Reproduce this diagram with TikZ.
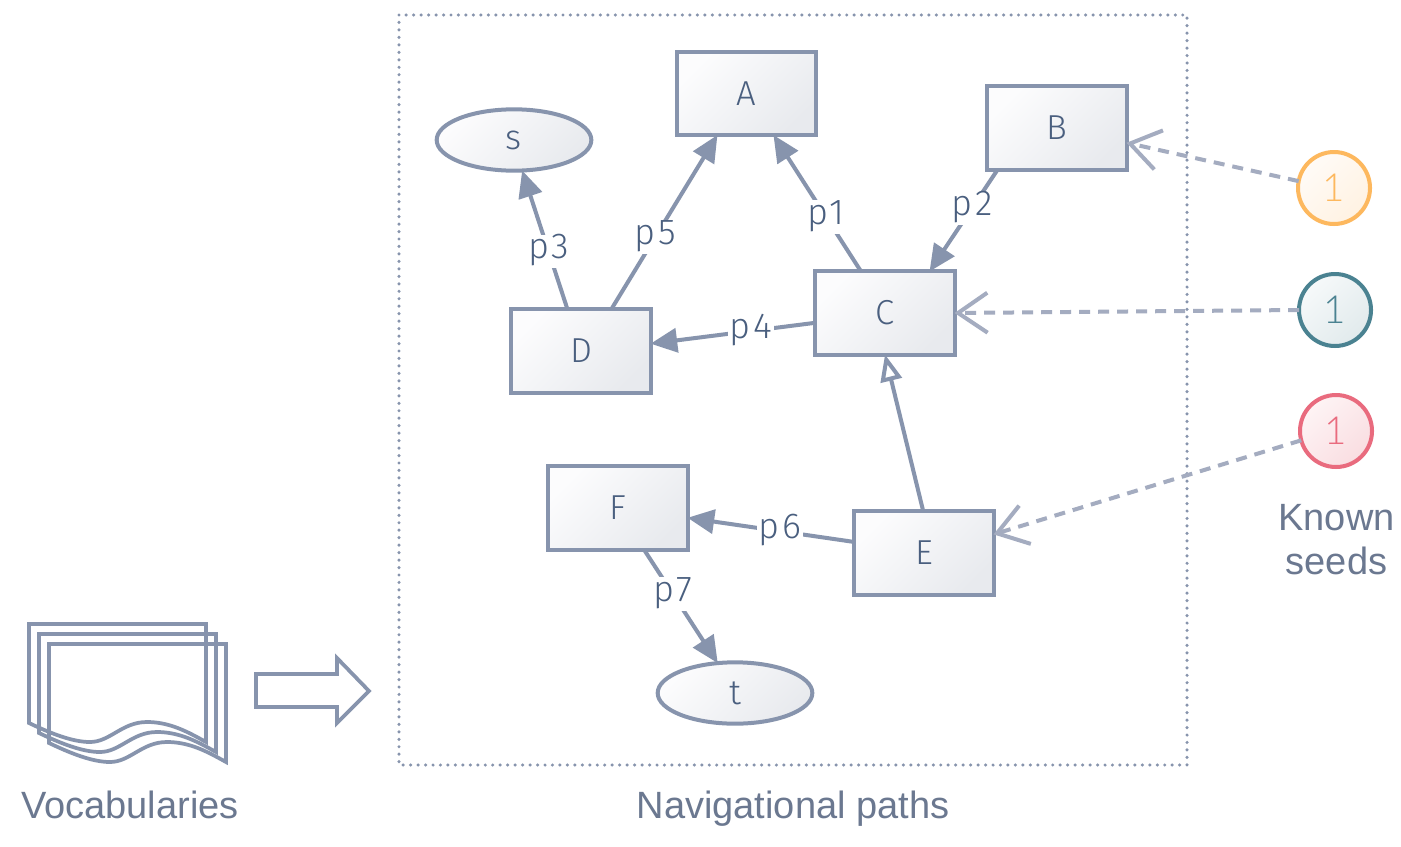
\documentclass[tikz,border=0pt]{standalone}
\usepackage{fontspec}
\setmainfont{Liberation Sans}
\newfontfamily\monof{Fira Sans Light}
\newfontfamily\labf[LetterSpace=9]{Fira Sans Light}
\newfontfamily\onef{Lato Light}
\usetikzlibrary{arrows.meta,shapes.geometric}
\definecolor{stk}{HTML}{8794AD}
\definecolor{dim}{HTML}{A4ACC0}
\definecolor{ink}{HTML}{4A5F7F}
\definecolor{cap}{HTML}{6B7890}
\definecolor{fa}{HTML}{FCFCFD}
\definecolor{fb}{HTML}{E8EAEE}
\definecolor{oS}{HTML}{FDB85E}\definecolor{oA}{HTML}{FFFBF7}\definecolor{oB}{HTML}{FFF2E2}
\definecolor{tS}{HTML}{4A8291}\definecolor{tA}{HTML}{F6F9FA}\definecolor{tB}{HTML}{E1EAEC}
\definecolor{rS}{HTML}{E96B7E}\definecolor{rA}{HTML}{FEF4F5}\definecolor{rB}{HTML}{F9DDE1}
\tikzset{
  x=0.75pt,y=-0.75pt,
  monotext/.style={font=\monof\fontsize{26}{28}\selectfont,text=ink},
  grad/.style={top color=fa,bottom color=fb,shading angle=45},
  entity/.style={draw=stk,line width=3pt,outer sep=0pt,inner sep=0pt,grad,monotext,
    minimum width=104.3pt,minimum height=62.3pt},
  term/.style={ellipse,draw=stk,line width=3pt,outer sep=0pt,inner sep=0pt,grad,monotext,
    minimum width=116pt,minimum height=46pt},
  seedA/.style={circle,line width=3pt,outer sep=0pt,inner sep=0pt,minimum size=54pt,
    font=\onef\fontsize{29}{30}\selectfont},
  rel/.style={draw=stk,line width=3pt,-{Triangle[length=20pt,width=18pt]}},
  isa/.style={draw=stk,line width=3pt,-{Triangle[open,fill=white,length=20pt,width=16pt]}},
  seedline/.style={draw=dim,line width=3pt,dash pattern=on 8.25pt off 6pt,
    -{Straight Barb[length=22pt,width=30pt]}},
  plabel/.style={fill=white,font=\labf\fontsize{27}{28}\selectfont,text=ink,inner sep=1pt,
    text height=17pt,text depth=6pt,minimum width=33pt},
  caption/.style={font=\fontsize{28.5}{33}\selectfont,text=cap,align=center},
  icon/.style={draw=stk,line width=2.8pt,line join=miter},
}
\begin{document}
\begin{tikzpicture}
\useasboundingbox (0,0) rectangle (1401,846);
\fill[white] (0,0) rectangle (1401,846);
% frame
\draw[stk,line width=2.6pt,line cap=round,dash pattern=on 0pt off 5.6pt] (399,15) rectangle (1187,765);
% vocabulary icon
\foreach \d in {0,10,20}{
  \draw[icon,shift={(\d,\d)}] (29,723) -- (29,624) -- (206,624) -- (206,742)
    .. controls (188,732) and (170,722) .. (147,722)
    .. controls (122,722) and (110,742) .. (90,742)
    .. controls (72,742) and (50,733) .. (29,723) -- cycle;
}
\draw[draw=stk,line width=2.8pt,miter limit=10] (256,674) -- (337,674) -- (337,658) -- (369,691) -- (337,723) -- (337,707) -- (256,707) -- cycle;
% nodes
\node[entity] (a) at (746.5,93.5) {A};
\node[entity] (b) at (1057,128) {B};
\node[entity] (c) at (885,313) {C};
\node[entity] (d) at (581,351) {D};
\node[entity] (e) at (924,553) {E};
\node[entity] (f) at (618,508) {F};
\node[term] (s) at (514,140) {s};
\node[term] (t) at (735,693) {t};
\node[seedA,draw=oS,top color=oA,bottom color=oB,shading angle=45,text=oS] (s1) at (1334,188) {1};
\node[seedA,draw=tS,top color=tA,bottom color=tB,shading angle=45,text=tS] (s2) at (1335,310) {1};
\node[seedA,draw=rS,top color=rA,bottom color=rB,shading angle=45,text=rS] (s3) at (1336,431) {1};
% edges
\path[rel] (c.120.8) -- node[plabel,pos=.40] {p1} (a.-57.4);
\path[rel] (b.215) -- node[plabel,pos=.376] {p2} (c.43);
\path[rel] (d.108.4) -- node[plabel,pos=.417] {p3} (s.-75);
\path[rel] (c.188.1) -- node[plabel,pos=.39] {p4} (d.6.5);
\path[rel] (d.54.5) -- node[plabel,pos=.414] {p5} (a.235.5);
\path[rel] (e.171.9) -- node[plabel,pos=.446] {p6} (f.-8.1);
\path[rel] (f.-58.2) -- node[plabel,pos=.39] {p7} (t.120.1);
\path[isa] (e.91.4) -- (c.south);
\path[seedline] (s1.169) -- (b.-12.1);
\path[seedline] (s2.west) -- (c.east);
\path[seedline] (s3.195.5) -- (e.15.9);
% captions
\node[caption,anchor=base] (vc) at (130,818) {Vocabularies};
\node[caption,anchor=base] (np) at (793,818) {Navigational paths};
\node[caption] (ks) at (1336.5,540) {Known\\seeds};
\end{tikzpicture}
\end{document}
